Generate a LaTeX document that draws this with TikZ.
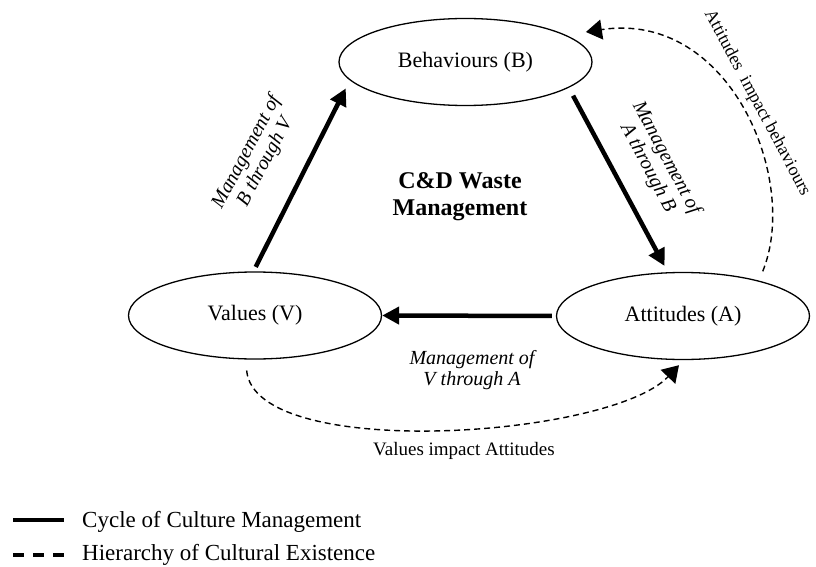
\documentclass[tikz,border=0pt]{standalone}
\usepackage{fontspec}
\setmainfont{Liberation Serif}
\usetikzlibrary{arrows.meta,shapes.geometric}

\begin{document}
\begin{tikzpicture}[x=1pt,y=-1pt,
  stage/.style={draw,ellipse,line width=1.3pt,minimum width=253pt,minimum height=87pt,
    inner sep=0pt,font=\fontsize{22}{26}\selectfont},
  cycle/.style={line width=4.5pt,-{Triangle[length=17pt,width=17pt]}},
  hier/.style={line width=1.4pt,dash pattern=on 6pt off 4pt,
    -{Triangle[length=16pt,width=20pt]}},
  lab/.style={align=center,inner sep=0pt,font=\itshape\fontsize{20}{21}\selectfont},
  plain/.style={align=center,inner sep=0pt,font=\fontsize{19}{21}\selectfont},
  heading/.style={align=center,inner sep=0pt,font=\bfseries\fontsize{24}{27}\selectfont},
  legtext/.style={inner sep=0pt,font=\fontsize{23}{26}\selectfont},
  legsolid/.style={line width=4pt},
  legdash/.style={line width=4pt,dash pattern=on 11pt off 9pt}]
\useasboundingbox (0,0) rectangle (816,567);

% the three cultural elements
\node[stage] (B) at (465.5,62) {Behaviours (B)};
\node[stage] (V) at (255,315.5) {Values (V)};
\node[stage] (A) at (683,316) {Attitudes (A)};

% cycle of culture management
\draw[cycle, shorten <=5pt, shorten >=9pt] (V.92) -- (B.189);
\draw[cycle, shorten <=9pt, shorten >=7pt] (B.346) -- (A.109);
\draw[cycle, shorten <=4pt] (A.180) -- (V.0);

% hierarchy of cultural existence
\draw[hier, shorten <=10pt, shorten >=20pt] (A.25) .. controls (800,180) and (730,10) .. (B.15);
\draw[hier, shorten <=11pt, shorten >=7pt] (V.258) .. controls (255,462) and (610,438) .. (A.271);

% labels
\node[lab, rotate=62] (lBV) at (256,157) {Management of\\B through V};
\node[lab, rotate=-62] (lAB) at (657,163) {Management of\\A through B};
\node[lab] (lVA) at (472,370) {Management of\\V through A};
\node[plain, rotate=-62, font=\fontsize{18}{20}\selectfont] (lAtt) at (757,103) {Attitudes\ \ impact behaviours};
\node[plain] (lVal) at (464,451) {Values impact Attitudes};
\node[heading] (ttl) at (460,197) {C\&D Waste\\Management};

% legend
\coordinate (s1) at (13,520);
\coordinate (s2) at (64,520);
\coordinate (d1) at (13,555);
\coordinate (d2) at (64,555);
\draw[legsolid] (s1) -- (s2);
\draw[legdash] (d1) -- (d2);
\node[legtext, anchor=base west] (leg1) at (82,527) {Cycle of Culture Management};
\node[legtext, anchor=base west] (leg2) at (82,560) {Hierarchy of Cultural Existence};
\end{tikzpicture}
\end{document}
